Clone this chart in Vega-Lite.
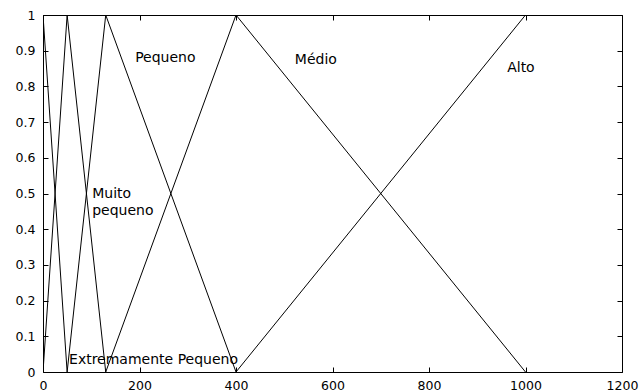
{
  "$schema": "https://vega.github.io/schema/vega-lite/v6.json",
  "width": 579,
  "height": 357,
  "autosize": {"type": "none"},
  "padding": {"left": 43, "top": 15, "right": 19, "bottom": 20},
  "background": "white",
  "config": {
    "view": {"stroke": null},
    "font": "DejaVu Sans",
    "axis": {
      "grid": false,
      "domainColor": "black",
      "domainWidth": 1,
      "tickColor": "black",
      "tickSize": -5,
      "labelColor": "black",
      "labelFont": "DejaVu Sans",
      "labelFontSize": 12.5,
      "labelFlush": false,
      "labelOverlap": false,
      "labelBound": false,
      "title": null
    }
  },
  "datasets": {
    "mf": [
      {"set": "Extremamente Pequeno", "o": 0, "x": 0, "y": 0.03},
      {"set": "Extremamente Pequeno", "o": 1, "x": 0, "y": 0.97},
      {"set": "Extremamente Pequeno", "o": 2, "x": 0, "y": 1},
      {"set": "Extremamente Pequeno", "o": 3, "x": 50, "y": 0},
      {"set": "Muito pequeno", "o": 0, "x": 0, "y": 0},
      {"set": "Muito pequeno", "o": 1, "x": 50, "y": 1},
      {"set": "Muito pequeno", "o": 2, "x": 130, "y": 0},
      {"set": "Pequeno", "o": 0, "x": 50, "y": 0},
      {"set": "Pequeno", "o": 1, "x": 130, "y": 1},
      {"set": "Pequeno", "o": 2, "x": 400, "y": 0},
      {"set": "Médio", "o": 0, "x": 130, "y": 0},
      {"set": "Médio", "o": 1, "x": 400, "y": 1},
      {"set": "Médio", "o": 2, "x": 1000, "y": 0},
      {"set": "Alto", "o": 0, "x": 400, "y": 0},
      {"set": "Alto", "o": 1, "x": 1000, "y": 1}
    ],
    "names": [
      {"label": "Pequeno", "x": 191, "y": 0.88},
      {"label": "Médio", "x": 522, "y": 0.874},
      {"label": "Alto", "x": 962, "y": 0.852},
      {"label": "Muito", "x": 102, "y": 0.5},
      {"label": "pequeno", "x": 102, "y": 0.45},
      {"label": "Extremamente Pequeno", "x": 54, "y": 0.034}
    ]
  },
  "layer": [
    {
      "data": {"name": "mf"},
      "mark": {"type": "line", "color": "black", "strokeWidth": 1, "clip": true},
      "encoding": {
        "x": {
          "field": "x", "type": "quantitative",
          "scale": {"domain": [0, 1200], "nice": false, "zero": false},
          "axis": {"orient": "bottom", "values": [0, 200, 400, 600, 800, 1000, 1200], "format": "d", "labelPadding": 12}
        },
        "y": {
          "field": "y", "type": "quantitative",
          "scale": {"domain": [0, 1], "nice": false},
          "axis": {"orient": "left", "values": [0, 0.1, 0.2, 0.3, 0.4, 0.5, 0.6, 0.7, 0.8, 0.9, 1], "format": "~g", "labelPadding": 13}
        },
        "detail": {"field": "set"},
        "order": {"field": "o"}
      }
    },
    {
      "data": {"name": "names"},
      "mark": {"type": "text", "align": "left", "baseline": "middle", "fontSize": 14, "color": "black", "font": "DejaVu Sans"},
      "encoding": {
        "x": {
          "field": "x", "type": "quantitative",
          "axis": {"orient": "top", "values": [0, 200, 400, 600, 800, 1000, 1200], "labels": false}
        },
        "y": {
          "field": "y", "type": "quantitative",
          "axis": {"orient": "right", "values": [0, 0.1, 0.2, 0.3, 0.4, 0.5, 0.6, 0.7, 0.8, 0.9, 1], "labels": false}
        },
        "text": {"field": "label"}
      }
    }
  ],
  "resolve": {"axis": {"x": "independent", "y": "independent"}}
}
